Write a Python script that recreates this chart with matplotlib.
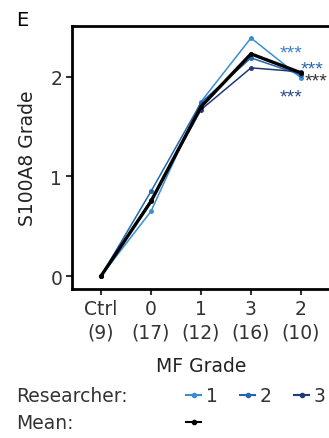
import matplotlib.pyplot as plt
from matplotlib.lines import Line2D

plt.rcParams['font.family'] = ['DejaVu Sans']

# data
categories = ["Ctrl\n(9)", "0\n(17)", "1\n(12)", "3\n(16)", "2\n(10)"]
researcher1 = [0, 0.65, 1.75, 2.39, 1.99]
researcher2 = [0, 0.85, 1.74, 2.19, 2.02]
researcher3 = [0, 0.76, 1.67, 2.09, 2.05]
mean_grade = [0, 0.75, 1.70, 2.23, 2.04]

colors = ["#3b8ed2", "#2166b0", "#1f3a78"]
star_colors = ["#3f7fc4", "#2a68b2", "#333333", "#2c4b8c"]
star_x = [3.80, 4.22, 4.31, 3.80]
star_y = [2.31, 2.15, 2.02, 1.86]

fig = plt.figure(figsize=(3.29, 4.39), dpi=100)
ax = fig.add_axes([72/329, 1 - 290/439, 259/329, 263/439])

x = range(len(categories))
for vals, c in zip([researcher1, researcher2, researcher3], colors):
    ax.plot(x, vals, color=c, lw=1.1, marker='o', ms=2.5)
ax.plot(x, mean_grade, color='black', lw=2.4, marker='o', ms=2.5)

for sx, sy, c in zip(star_x, star_y, star_colors):
    ax.annotate("***", (sx, sy), xytext=(0, -8), textcoords='offset points',
                color=c, fontsize=14, ha='center', va='baseline',
                family='Liberation Sans')

ax.set_xlim(-0.58, 4.6)
ax.set_ylim(-0.13, 2.51)
ax.set_xticks(list(x))
ax.set_xticklabels(categories, fontsize=13.5, linespacing=1.35)
ax.set_yticks([0, 1, 2])
ax.tick_params(labelsize=13.5, width=1.5, length=4, pad=3,
               color='#333333', labelcolor='#333333')
ax.spines['right'].set_visible(False)
for s in ['left', 'top', 'bottom']:
    ax.spines[s].set_linewidth(2)
ax.set_xlabel("MF Grade", fontsize=13.5, color='#222222', labelpad=10)
ax.set_ylabel("S100A8 Grade", fontsize=13.5, color='#222222', labelpad=10)

fig.text(16/329, 1 - 21/439, "E", fontsize=14, va='center', ha='left')

# legend
fig.text(16/329, 1 - 397/439, "Researcher:", fontsize=13.5, color='#333333', va='center')
fig.text(16/329, 1 - 424/439, "Mean:", fontsize=13.5, color='#333333', va='center')
handles = [Line2D([], [], color=c, lw=1.5, marker='o', ms=3) for c in colors]
fig.legend(handles, ["1", "2", "3"], ncol=3, frameon=False, fontsize=13.5,
           loc='center left', bbox_to_anchor=(173/329, 1 - 397/439),
           handlelength=0.8, handletextpad=0.25, columnspacing=1.2,
           labelcolor='#333333', borderpad=0.2)
mean_handle = [Line2D([], [], color='black', lw=1.5, marker='o', ms=3)]
fig.legend(mean_handle, [""], frameon=False, fontsize=13.5,
           loc='center left', bbox_to_anchor=(173/329, 1 - 424/439),
           handlelength=0.8, handletextpad=0.0, borderpad=0.2)

fig.savefig("out.png", dpi=100)
